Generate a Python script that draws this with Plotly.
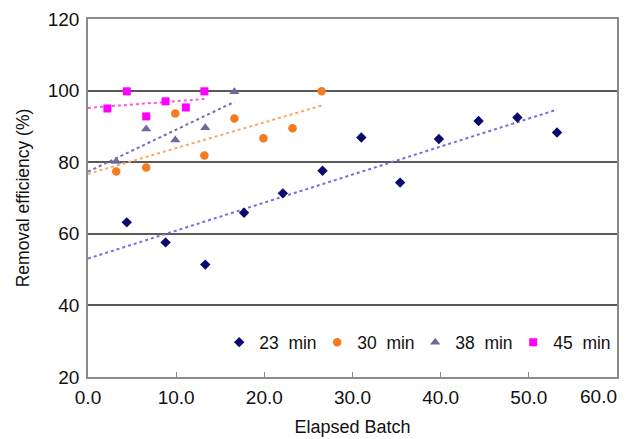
import numpy as np
import plotly.graph_objects as go

# ---- data ----
series_names = ["23  min", "30  min", "38  min", "45  min"]

x_23 = [4.4, 8.8, 13.3, 17.7, 22.1, 26.6, 31.0, 35.4, 39.8, 44.3, 48.7, 53.2]
y_23 = [63.2, 57.6, 51.4, 65.9, 71.3, 77.6, 86.9, 74.3, 86.5, 91.5, 92.5, 88.3]

x_30 = [3.2, 6.6, 9.9, 13.2, 16.6, 19.9, 23.2, 26.5]
y_30 = [77.4, 78.5, 93.6, 81.9, 92.2, 86.7, 89.5, 99.8]

x_38 = [3.2, 6.6, 9.9, 13.3, 16.6]
y_38 = [80.2, 89.3, 86.2, 89.6, 99.7]

x_45 = [2.2, 4.4, 6.6, 8.8, 11.1, 13.2]
y_45 = [95.0, 99.8, 92.8, 97.0, 95.3, 99.8]

x_ticks = [0, 10, 20, 30, 40, 50]
x_tick_labels = ["0.0", "10.0", "20.0", "30.0", "40.0", "50.0"]
x_last_tick = [60]
x_last_label = ["60.0"]
y_ticks = [20, 40, 60, 80, 100, 120]

# ---- styles ----
marker_colors = ["#0a0a6e", "#f47b20", "#6b6b9f", "#ff00ff"]
trend_colors = ["#6f6fe0", "#f6a86a", "#6e6eb4", "#ff55e6"]
symbols = ["diamond", "circle", "triangle-up", "square"]
sizes = [8, 8.5, 9, 8]

FONT = "Liberation Sans, Arial, sans-serif"

fig = go.Figure()
xs = [x_23, x_30, x_38, x_45]
ys = [y_23, y_30, y_38, y_45]

# linear trendlines (least squares), drawn from x=0 to the last point
for i in range(4):
    k, b = np.polyfit(xs[i], ys[i], 1)
    tx = np.array([0.0, max(xs[i])])
    fig.add_trace(go.Scatter(
        x=tx, y=k * tx + b, mode="lines", showlegend=False, hoverinfo="skip",
        line=dict(color=trend_colors[i], width=2, dash="dot")))

for i in range(4):
    fig.add_trace(go.Scatter(
        x=xs[i], y=ys[i], mode="markers", name=series_names[i],
        marker=dict(symbol=symbols[i], size=sizes[i], color=marker_colors[i],
                    line=dict(width=0))))

# empty helper trace so the overlay axis carrying the last tick label is drawn
fig.add_trace(go.Scatter(x=x_last_tick, y=[None], xaxis="x2", yaxis="y",
                         mode="markers", showlegend=False, hoverinfo="skip"))

fig.update_layout(
    width=632, height=439, autosize=False,
    margin=dict(l=88, r=15, t=19, b=62, autoexpand=False),
    paper_bgcolor="white", plot_bgcolor="white",
    font=dict(family=FONT, size=19, color="#111"),
    showlegend=True,
    legend=dict(orientation="h", x=0.248, xanchor="left", y=0.097, yanchor="middle",
                bgcolor="rgba(255,255,255,0)", font=dict(size=17.5, color="#111"),
                itemwidth=30, entrywidth=53, entrywidthmode="pixels",
                traceorder="normal"),
    xaxis=dict(
        range=[0, 60], tickvals=x_ticks, ticktext=x_tick_labels,
        showgrid=False, zeroline=False, showline=True, linecolor="#8a8a8a", linewidth=1.5,
        mirror=True, ticks="inside", ticklen=5, tickcolor="#8a8a8a",
        automargin=False, ticklabelstandoff=2,
        title=dict(text="Elapsed Batch", font=dict(size=18), standoff=14),
        tickfont=dict(size=19),
    ),
    xaxis2=dict(overlaying="x", anchor="y", side="bottom", range=[0, 60],
                tickvals=x_last_tick, ticktext=x_last_label, ticks="",
                showline=False, showgrid=False, zeroline=False,
                ticklabelposition="outside left", ticklabelstandoff=6,
                ticklabeloverflow="allow",
                automargin=False, tickfont=dict(size=19)),
    yaxis=dict(
        range=[20, 120], tickvals=y_ticks,
        showgrid=True, gridcolor="#5a5a5a", gridwidth=1.5, zeroline=False,
        showline=True, linecolor="#8a8a8a", linewidth=1.5, mirror=True,
        automargin=False, ticklabelstandoff=3,
        ticks="", title=dict(text="Removal efficiency (%)", font=dict(size=17.5), standoff=14),
        tickfont=dict(size=19),
    ),
)

fig.write_html(
    "out.html",
    config={"responsive": False, "displayModeBar": False},
    default_width="632px", default_height="439px",
    post_script="document.body.style.margin='0';document.body.style.overflow='hidden';",
)
